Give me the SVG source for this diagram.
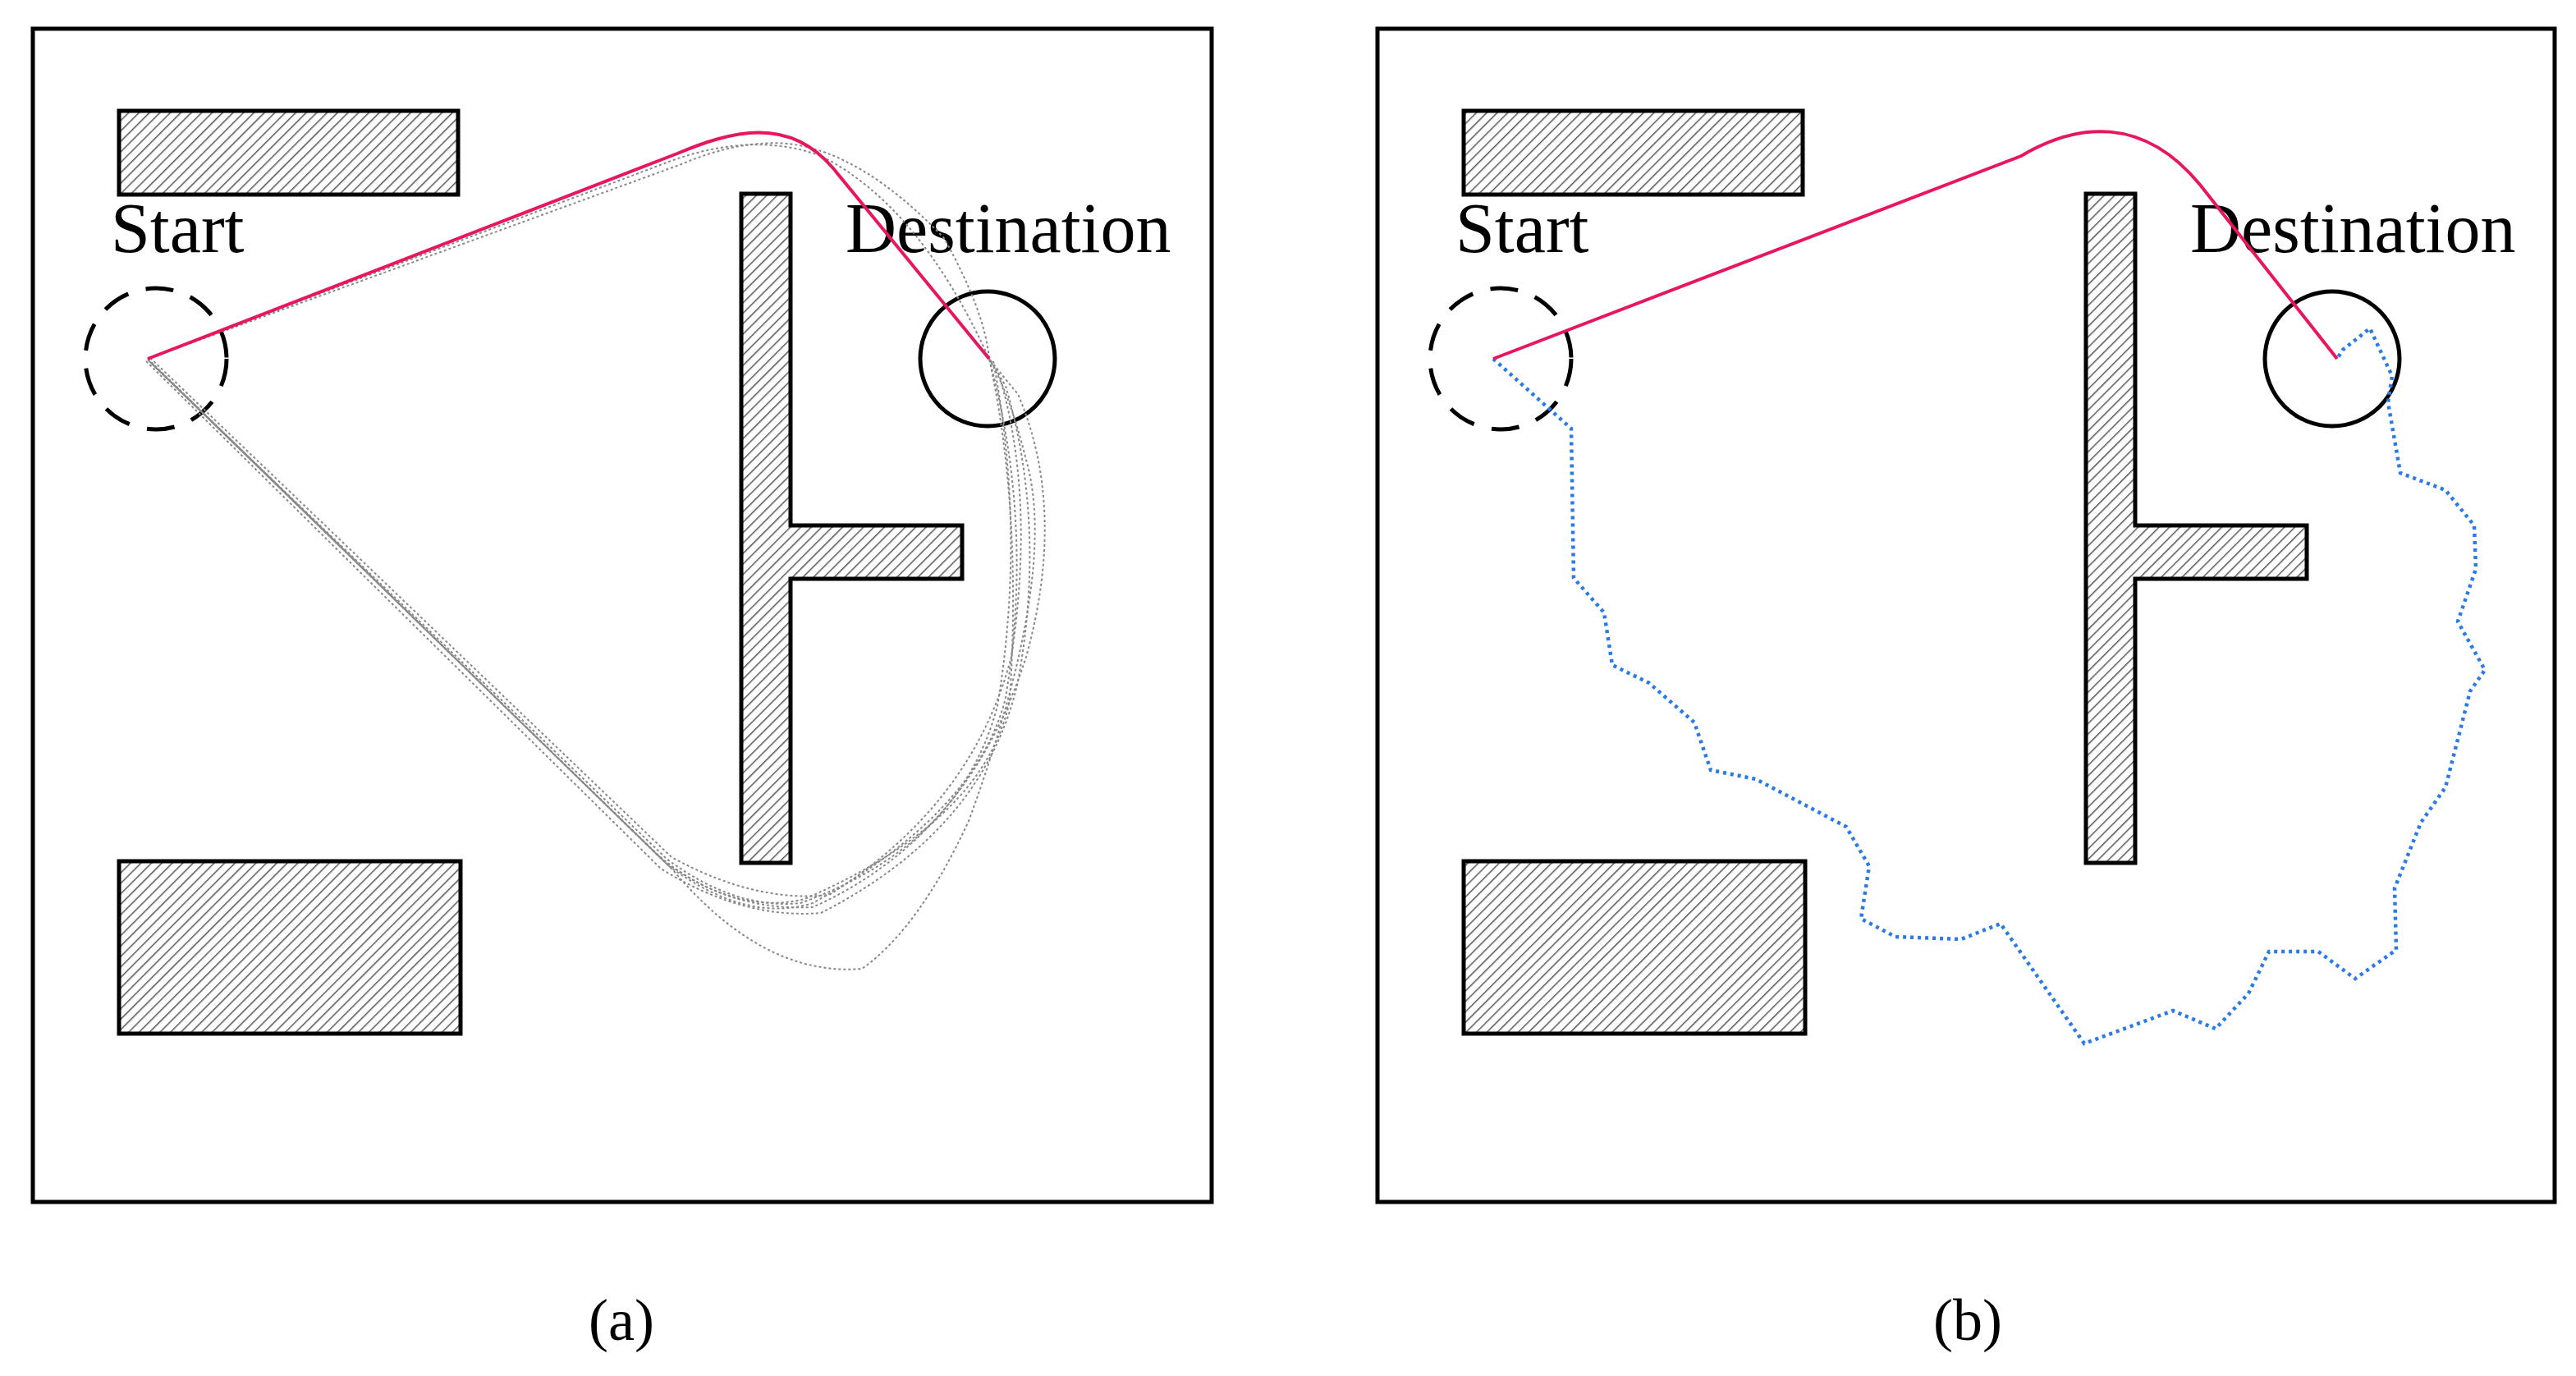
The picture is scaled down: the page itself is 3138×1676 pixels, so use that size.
<svg xmlns="http://www.w3.org/2000/svg" width="3138" height="1676" viewBox="0 0 3138 1676">
<style>
.frame{fill:none;stroke:#000;stroke-width:5}
.obs{fill:url(#hatch);stroke:#000;stroke-width:5}
.lbl{font-family:"Liberation Serif",serif;font-size:86px;fill:#000}
.cap{font-family:"Liberation Serif",serif;font-size:72px;fill:#000;text-anchor:middle}
.mag{fill:none;stroke:#e8175d;stroke-width:4}
.grey{fill:none;stroke:#888;stroke-width:2;stroke-dasharray:3 3}
.blue{fill:none;stroke:#2a7ae8;stroke-width:4.5;stroke-dasharray:4 5}
</style>
<defs>
<pattern id="hatch" patternUnits="userSpaceOnUse" width="9" height="9" patternTransform="rotate(45)">
<rect width="9" height="9" fill="#fff"/>
<line x1="0" y1="0" x2="0" y2="9" stroke="#555" stroke-width="3"/>
</pattern>
</defs>
<rect width="3138" height="1676" fill="#fff"/>
<g id="panelA">
<rect class="frame" x="40" y="35" width="1436" height="1429"/>
<g id="a-obs1"><rect class="obs" x="145" y="135" width="413" height="102"/></g>
<g id="a-obs2"><rect class="obs" x="145" y="1049" width="416" height="210"/></g>
<g id="a-obsT"><path class="obs" d="M903 236 H963 V640 H1172 V705 H963 V1051 H903 Z"/></g>
<g id="a-start"><circle cx="190" cy="437" r="86" fill="none" stroke="#000" stroke-width="5" stroke-dasharray="34 22"/><text class="lbl" x="135" y="307">Start</text></g>
<g id="a-dest"><circle cx="1203" cy="437" r="82" fill="none" stroke="#000" stroke-width="5"/><text class="lbl" x="1030" y="307">Destination</text></g>
<g id="a-paths">
<path class="grey" d="M180 437 L810 1050 Q900 1115 980 1095 Q1200 1000 1230 853 Q1245 620 1205 437"/>
<path class="grey" d="M182 440 L815 1055 Q910 1125 990 1100 Q1190 990 1225 850 Q1260 640 1205 437"/>
<path class="grey" d="M184 442 L820 1060 Q930 1190 1050 1180 Q1120 1130 1180 1000 Q1290 700 1250 560 Q1230 480 1205 437"/>
<path class="grey" d="M180 438 L800 1040 Q880 1110 990 1105 Q1180 1020 1250 800 Q1300 620 1240 480 Q1215 450 1205 437"/>
<path class="grey" d="M186 444 L812 1046 Q895 1108 975 1100 Q1170 1030 1215 860 Q1250 650 1210 440"/>
<path class="grey" d="M178 440 L805 1058 Q905 1120 1000 1112 Q1200 1010 1240 830 Q1275 640 1225 470 Q1210 445 1205 437"/>
<path class="grey" d="M183 436 L818 1044 Q920 1100 1010 1090 Q1185 980 1232 800 Q1262 600 1215 450"/>
<path class="grey" d="M180 437 L830 200 Q900 170 960 175 Q1050 185 1150 290 Q1200 380 1205 437"/>
<path class="grey" d="M180 437 L820 195 Q920 160 1000 190 Q1120 250 1205 437"/>
<path class="mag" d="M180 437 L825 187 C890 160 960 140 1015 205 L1205 437"/>
</g>
<text class="cap" x="757" y="1632">(a)</text>
</g>
<g id="panelB">
<rect class="frame" x="1678" y="35" width="1434" height="1429"/>
<g id="b-obs1"><rect class="obs" x="1783" y="135" width="413" height="102"/></g>
<g id="b-obs2"><rect class="obs" x="1783" y="1049" width="416" height="210"/></g>
<g id="b-obsT"><path class="obs" d="M2541 236 H2601 V640 H2810 V705 H2601 V1051 H2541 Z"/></g>
<g id="b-start"><circle cx="1828" cy="437" r="86" fill="none" stroke="#000" stroke-width="5" stroke-dasharray="34 22"/><text class="lbl" x="1773" y="307">Start</text></g>
<g id="b-dest"><circle cx="2841" cy="437" r="82" fill="none" stroke="#000" stroke-width="5"/><text class="lbl" x="2668" y="307">Destination</text></g>
<g id="b-paths">
<path class="blue" d="M1819 437 L1914 522 L1917 704 L1954 746 L1964 810 L2009 832 L2064 880 L2084 938 L2139 949 L2249 1007 L2277 1055 L2267 1119 L2309 1141 L2389 1144 L2437 1125 L2539 1271 L2647 1231 L2699 1253 L2739 1210 L2764 1159 L2824 1159 L2869 1192 L2919 1157 L2917 1082 L2949 1002 L2979 959 L3009 842 L3027 816 L2994 757 L3016 693 L3014 640 L2979 597 L2924 576 L2909 490 L2914 458 L2887 400 L2854 426 L2847 437"/>
<path class="mag" d="M1819 437 L2462 190 C2530 150 2610 140 2680 225 L2847 437"/>
</g>
<text class="cap" x="2397" y="1632">(b)</text>
</g>
</svg>
